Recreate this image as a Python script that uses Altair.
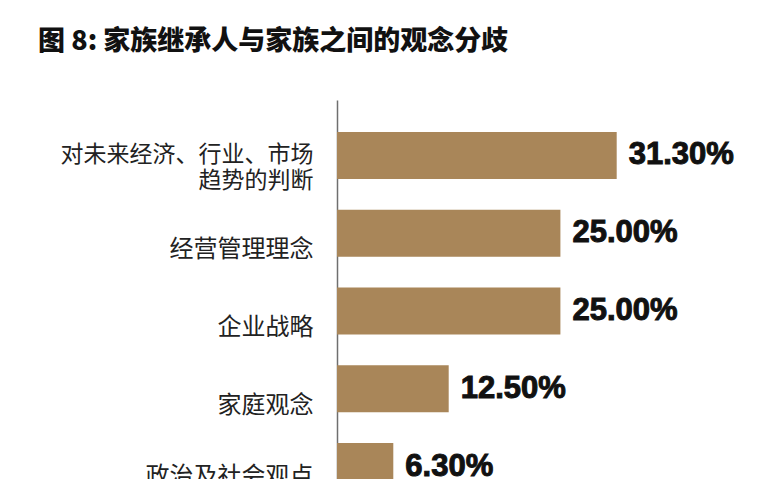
import altair as alt
import pandas as pd

categories = ["对未来经济、行业、市场\n趋势的判断", "经营管理理念", "企业战略", "家庭观念", "政治及社会观点"]
values = [31.3, 25.0, 25.0, 12.5, 6.3]
title_text = "图 8: 家族继承人与家族之间的观念分歧"

df = pd.DataFrame({"category": categories, "value": values})

multi_test = "indexof(datum.value, '\\n') >= 0"
last_test = "datum.value == '政治及社会观点'"

y_enc = alt.Y(
    "category:N",
    sort=categories,
    scale=alt.Scale(range=[0, 422], paddingInner=0.395, paddingOuter=0.41),
    axis=alt.Axis(
        title=None,
        ticks=False,
        grid=False,
        domainColor="#6f6f6f",
        domainWidth=1.5,
        labelFont="Noto Sans CJK SC",
        labelFontSize={"condition": {"test": multi_test, "value": 23}, "value": 24},
        labelColor="#222222",
        labelPadding=24,
        labelOffset={
            "condition": [
                {"test": multi_test, "value": 0},
                {"test": last_test, "value": 10},
            ],
            "value": 17,
        },
        labelLineHeight=26,
        labelLimit=400,
        labelExpr="split(datum.label, '\\n')",
    ),
)
x_enc = alt.X("value:Q", scale=alt.Scale(domain=[0, 47], nice=False), axis=None)

bars = alt.Chart(df).mark_bar(color="#a98659", clip=True).encode(y=y_enc, x=x_enc)

text = (
    alt.Chart(df)
    .transform_calculate(lbl="format(datum.value, '.2f') + '%'")
    .mark_text(
        align="left",
        baseline="middle",
        dx=12,
        font="Liberation Sans",
        fontSize=31,
        fontWeight="bold",
        color="#111111",
        stroke="#111111",
        strokeWidth=1,
        clip=True,
    )
    .encode(y=alt.Y("category:N", sort=categories), x=alt.X("value:Q"), text="lbl:N")
)

chart = (
    alt.layer(bars, text)
    .properties(
        width=420,
        height=379,
        autosize=alt.AutoSizeParams(type="none"),
        padding={"left": 329, "top": 92, "right": 0, "bottom": 0},
        title=alt.TitleParams(
            text=title_text,
            anchor="start",
            frame="group",
            dx=-299,
            offset=44,
            font="Noto Sans CJK SC",
            fontSize=27,
            fontWeight=900,
            color="#111111",
        ),
    )
    .configure_view(stroke=None)
)

chart.save("out.html", embed_options={"renderer": "svg", "actions": False})
